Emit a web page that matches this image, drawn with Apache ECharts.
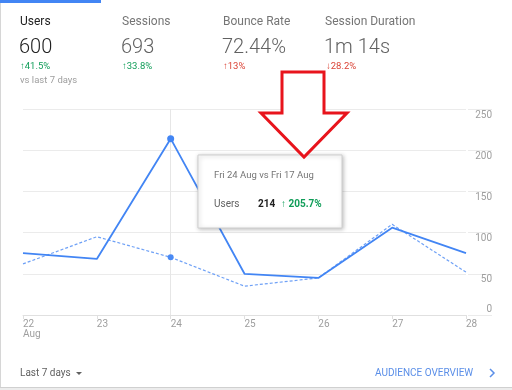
<!DOCTYPE html>
<html>
<head>
<meta charset="utf-8">
<script src="https://cdn.jsdelivr.net/npm/echarts@6/dist/echarts.min.js"></script>
<style>
  html, body { margin: 0; padding: 0; background: #fff; }
  #chart { width: 512px; height: 390px; }
</style>
</head>
<body>
<div id="chart"></div>
<script>
// ---- data ----
const categories = ['22', '23', '24', '25', '26', '27', '28'];
const monthLabel = 'Aug';
const usersThisWeek = [75, 68, 214, 50, 45, 106, 75];
const usersLastWeek = [62, 95, 70, 35, 45, 110, 52];
const yMin = 0, yMax = 250, yInterval = 50;

const metricNames = ['Users', 'Sessions', 'Bounce Rate', 'Session Duration'];
const metricValues = ['600', '693', '72.44%', '1m 14s'];
const metricChanges = ['↑41.5%', '↑33.8%', '↑13%', '↓28.2%'];
const metricGood = [true, true, false, false];
const compareText = 'vs last 7 days';
const hoverIndex = 2;
const hoverTitle = 'Fri 24 Aug vs Fri 17 Aug';
const rangeText = 'Last 7 days';
const linkText = 'AUDIENCE OVERVIEW';

// ---- chart ----
const chart = echarts.init(document.getElementById('chart'));
const FONT = 'Roboto, "Noto Sans", sans-serif';
const BLUE = '#4285f4';
const GREEN = '#0f9d58';
const RED = '#db4437';

const metricX = [20, 122, 223, 325];
const headerGraphics = [];
metricNames.forEach((n, i) => {
  headerGraphics.push({ type: 'text', style: { text: n, x: metricX[i], y: 22, verticalAlign: 'middle', font: '12px ' + FONT, fill: i === 0 ? '#212121' : '#757575' } });
  headerGraphics.push({ type: 'text', style: { text: metricValues[i], x: metricX[i] - 1, y: 48, verticalAlign: 'middle', font: '300 20px ' + FONT, fill: i === 0 ? '#212121' : '#616161' } });
  headerGraphics.push({ type: 'text', z: 70, style: { text: metricChanges[i], x: metricX[i] + (i === 3 ? 1 : 0), y: 67, verticalAlign: 'middle', font: '9.5px ' + FONT, fill: metricGood[i] ? GREEN : RED } });
});
headerGraphics.push({ type: 'text', style: { text: compareText, x: 20, y: 81, verticalAlign: 'middle', font: '9.5px ' + FONT, fill: '#9e9e9e' } });

const cur = usersThisWeek[hoverIndex];
const prev = usersLastWeek[hoverIndex];
const pct = ((cur / prev - 1) * 100).toFixed(1) + '%';

const option = {
  animation: false,
  backgroundColor: '#fff',
  grid: [
    { left: 23, right: 46, top: 109, bottom: 75 },
    { left: 468, right: 20, top: 109, bottom: 75 }
  ],
  xAxis: [
    {
      type: 'category', gridIndex: 0, data: categories, boundaryGap: false,
      axisLine: { show: true, lineStyle: { color: '#e0e0e0', width: 1 } },
      axisTick: { show: true, length: 4, lineStyle: { color: '#e0e0e0' } },
      axisLabel: {
        align: 'left', margin: 4, fontSize: 10, fontFamily: FONT, color: '#9e9e9e', lineHeight: 10,
        formatter: (v, i) => i === 0 ? v + '\n' + monthLabel : v
      },
      splitLine: { show: false }
    },
    { type: 'category', gridIndex: 1, data: [''], show: false }
  ],
  yAxis: [
    {
      type: 'value', gridIndex: 0, min: yMin, max: yMax, interval: yInterval,
      axisLine: { show: false }, axisTick: { show: false }, axisLabel: { show: false },
      splitLine: { lineStyle: { color: '#ebebeb', width: 1 } }
    },
    {
      type: 'value', gridIndex: 1, min: yMin, max: yMax, interval: yInterval, position: 'right',
      axisLine: { show: false }, axisTick: { show: false },
      axisLabel: {
        inside: true, margin: 0, fontSize: 10, fontFamily: FONT, color: '#9e9e9e',
        formatter: v => v === 0 ? '{z|0}' : '{n|' + v + '}',
        rich: {
          n: { fontSize: 10, fontFamily: FONT, color: '#9e9e9e', padding: [12, 0, 0, 0] },
          z: { fontSize: 10, fontFamily: FONT, color: '#9e9e9e', padding: [0, 0, 12, 0] }
        }
      },
      splitLine: { lineStyle: { color: '#ebebeb', width: 1 } }
    }
  ],
  series: [
    {
      name: 'Previous', type: 'line', xAxisIndex: 0, yAxisIndex: 0, data: usersLastWeek,
      showSymbol: true, symbol: 'circle',
      symbolSize: (v, p) => p.dataIndex === hoverIndex ? 6 : 0,
      itemStyle: { color: '#4a8af4', borderWidth: 0 },
      lineStyle: { color: '#6fa1f6', width: 1.2, type: [3, 2] },
      markLine: {
        silent: true, symbol: 'none', label: { show: false }, z: 0,
        lineStyle: { color: '#e6e6e6', type: 'solid', width: 1 },
        data: [{ xAxis: categories[hoverIndex] }]
      },
      z: 2
    },
    {
      name: 'Users', type: 'line', xAxisIndex: 0, yAxisIndex: 0, data: usersThisWeek,
      showSymbol: true, symbol: 'circle',
      symbolSize: (v, p) => p.dataIndex === hoverIndex ? 7 : 0,
      itemStyle: { color: BLUE, borderWidth: 0 },
      lineStyle: { color: BLUE, width: 1.8 },
      z: 3
    }
  ],
  graphic: [
    // card
    { type: 'line', shape: { x1: 0.5, y1: 0, x2: 0.5, y2: 388 }, style: { stroke: '#d6d6d6', lineWidth: 1 }, z: 1 },
    { type: 'rect', shape: { x: 0, y: 387, width: 512, height: 1 }, style: { fill: '#d0d0d0' }, z: 1 },
    { type: 'rect', shape: { x: 0, y: 388, width: 512, height: 2 }, style: { fill: '#ececec' }, z: 1 },
    { type: 'rect', shape: { x: 0, y: 0, width: 101, height: 3 }, style: { fill: BLUE }, z: 10 },
    ...headerGraphics,
    // tooltip
    {
      type: 'rect', shape: { x: 198, y: 155, width: 144, height: 73 },
      style: { fill: '#fff', stroke: '#cfcfcf', lineWidth: 1, shadowBlur: 4, shadowColor: 'rgba(0,0,0,0.25)', shadowOffsetX: 1, shadowOffsetY: 1 },
      z: 50
    },
    { type: 'text', z: 51, style: { text: hoverTitle, x: 214, y: 176, verticalAlign: 'middle', font: '9.5px ' + FONT, fill: '#757575' } },
    { type: 'text', z: 51, style: { text: 'Users', x: 214, y: 204, verticalAlign: 'middle', font: '10px ' + FONT, fill: '#616161' } },
    { type: 'text', z: 51, style: { text: String(cur), x: 258, y: 204, verticalAlign: 'middle', font: 'bold 10px ' + FONT, fill: '#212121' } },
    { type: 'text', z: 51, style: { text: '↑ ' + pct, x: 281, y: 204, verticalAlign: 'middle', font: 'bold 10px ' + FONT, fill: GREEN } },
    // red arrow annotation
    {
      type: 'polygon', z: 60,
      shape: { points: [[282, 72], [324, 72], [324, 113], [347, 113], [304, 157], [261, 113], [282, 113]] },
      style: { fill: '#fff', stroke: '#e8141c', lineWidth: 3, lineJoin: 'miter' }
    },
    // footer
    { type: 'text', style: { text: rangeText, x: 20, y: 373, verticalAlign: 'middle', font: '10px ' + FONT, fill: '#616161' } },
    { type: 'polygon', shape: { points: [[76, 372], [82, 372], [79, 375]] }, style: { fill: '#616161' } },
    { type: 'text', style: { text: linkText, x: 375, y: 373, verticalAlign: 'middle', font: '10px ' + FONT, fill: '#5b8fe8' } },
    { type: 'polyline', shape: { points: [[490, 369], [494, 373], [490, 377]] }, style: { stroke: '#5b8fe8', lineWidth: 1.5, fill: null } }
  ]
};
chart.setOption(option);
</script>
</body>
</html>
